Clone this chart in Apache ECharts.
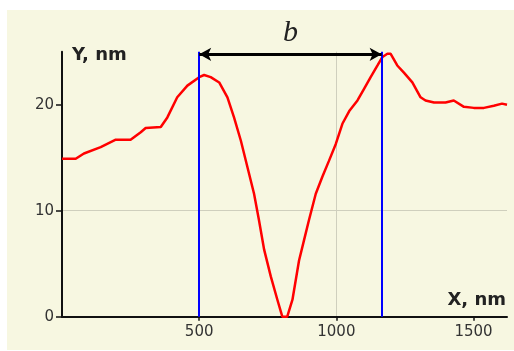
<!DOCTYPE html>
<html>
<head>
<meta charset="utf-8">
<style>
html,body{margin:0;padding:0;background:#ffffff;}
#chart{width:514px;height:351px;}
</style>
<script src="https://cdn.jsdelivr.net/npm/echarts@6/dist/echarts.min.js"></script>
</head>
<body>
<div id="chart"></div>
<script>
// Profile data (X, nm ; Y, nm)
var profileX = [0,50,80,141,196,250,287,305,360,384,420,457,500,518,542,573,603,627,652,676,700,718,737,761,785,803,821,840,864,882,900,925,949,973,998,1022,1047,1077,1101,1125,1150,1168,1186,1198,1222,1247,1277,1307,1325,1356,1398,1428,1465,1501,1538,1574,1604,1622];
var profileY = [14.9,14.9,15.4,16.0,16.7,16.7,17.4,17.8,17.9,18.8,20.7,21.8,22.6,22.8,22.6,22.1,20.7,18.8,16.6,14.1,11.6,9.1,6.3,3.8,1.6,0,0,1.6,5.3,7.2,9.1,11.6,13.2,14.7,16.3,18.2,19.4,20.4,21.5,22.6,23.7,24.5,24.8,24.8,23.7,23.0,22.1,20.7,20.4,20.2,20.2,20.4,19.8,19.7,19.7,19.9,20.1,20.0];
// Width markers
var markerX = [500, 1165];
var arrowY = 24.75;
var widthLabel = 'b';
// Axis ticks
var xTicks = [500, 1000, 1500];
var yTicks = [0, 10, 20];
var xMax = 1622, yMax = 25;

var chart = echarts.init(document.getElementById('chart'), null, {renderer:'canvas'});
var lineData = profileX.map(function(x,i){return [x, profileY[i]];});
function plain(v){return String(v);}

var option = {
  animation:false,
  backgroundColor:'#ffffff',
  graphic:[{type:'rect', left:7, top:10, shape:{width:507, height:340}, style:{fill:'#f7f7e1'}, z:-10, silent:true}],
  grid:{left:62, right:7, top:51.7, bottom:34.3, containLabel:false},
  xAxis:{
    type:'value', min:0, max:xMax, interval:500,
    name:'X, nm', nameLocation:'end', nameGap:-1,
    nameTextStyle:{fontFamily:'DejaVu Sans', fontWeight:'bold', fontSize:18, color:'#222', align:'right', verticalAlign:'bottom', padding:[0,0,7,0]},
    axisLine:{show:true, onZero:false, lineStyle:{color:'#111', width:2}},
    axisTick:{show:true, length:4, customValues:xTicks, lineStyle:{color:'#111', width:1.5}},
    axisLabel:{customValues:xTicks, formatter:plain, margin:8, fontFamily:'DejaVu Sans', fontSize:15, color:'#333'},
    splitLine:{show:true, showMinLine:false, showMaxLine:false, lineStyle:{color:'#cfcfbd', width:1}}
  },
  yAxis:{
    type:'value', min:0, max:yMax, interval:10,
    name:'Y, nm', nameLocation:'end', nameGap:-4,
    nameTextStyle:{fontFamily:'DejaVu Sans', fontWeight:'bold', fontSize:18, color:'#222', align:'left', verticalAlign:'middle', padding:[0,0,0,10]},
    axisLine:{show:true, onZero:false, lineStyle:{color:'#111', width:2}},
    axisTick:{show:true, length:6, customValues:yTicks, lineStyle:{color:'#111', width:1.5}},
    axisLabel:{customValues:yTicks, formatter:plain, margin:8, fontFamily:'DejaVu Sans', fontSize:15, color:'#333'},
    splitLine:{show:true, showMinLine:false, showMaxLine:false, lineStyle:{color:'#cfcfbd', width:1}}
  },
  series:[
    {
      type:'line', data:lineData, showSymbol:false, symbol:'none',
      lineStyle:{color:'#ff0000', width:2.5}, z:3,
      markLine:{
        silent:true, symbol:['none','none'], animation:false,
        label:{show:false},
        lineStyle:{color:'#0000ff', width:2, type:'solid'},
        data: markerX.map(function(x){return [{coord:[x,0]},{coord:[x,yMax]}];})
      }
    },
    {
      type:'line', data:[], z:4,
      markLine:{
        silent:true, symbol:['arrow','arrow'], symbolSize:[10,12], animation:false,
        lineStyle:{color:'#000000', width:3, type:'solid'},
        label:{show:true, position:'middle', formatter:widthLabel, distance:6,
          fontFamily:'Liberation Serif', fontStyle:'italic', fontSize:30, color:'#222'},
        data:[[{coord:[markerX[0],arrowY]},{coord:[markerX[1],arrowY]}]]
      }
    }
  ]
};
chart.setOption(option);
</script>
</body>
</html>
